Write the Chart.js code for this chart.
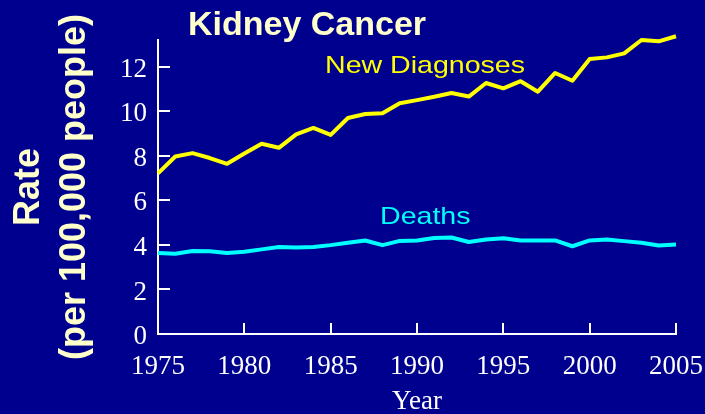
<!DOCTYPE html>
<html>
<head>
<meta charset="utf-8">
<script src="https://cdn.jsdelivr.net/npm/chart.js@4/dist/chart.umd.min.js"></script>
<style>
  html, body { margin: 0; padding: 0; background: #00008e; }
  canvas { display: block; background: #00008e; }
</style>
</head>
<body>
<canvas id="kidney-chart" width="705" height="414"></canvas>
<script>
/* Data */
const years = [1975, 1976, 1977, 1978, 1979, 1980, 1981, 1982, 1983, 1984,
               1985, 1986, 1987, 1988, 1989, 1990, 1991, 1992, 1993, 1994,
               1995, 1996, 1997, 1998, 1999, 2000, 2001, 2002, 2003, 2004, 2005];
const newDiagnoses = [7.21, 7.97, 8.12, 7.9, 7.64, 8.1, 8.54, 8.36, 8.96, 9.25,
                      8.94, 9.7, 9.88, 9.91, 10.36, 10.5, 10.65, 10.82, 10.66, 11.27,
                      11.03, 11.35, 10.88, 11.72, 11.37, 12.35, 12.42, 12.6, 13.2, 13.14, 13.37];
const deaths = [3.64, 3.6, 3.73, 3.72, 3.64, 3.69, 3.8, 3.91, 3.88, 3.91,
                3.99, 4.1, 4.2, 3.99, 4.18, 4.2, 4.31, 4.33, 4.13, 4.24,
                4.3, 4.2, 4.2, 4.2, 3.94, 4.2, 4.24, 4.17, 4.1, 3.97, 4.02];
const xTicks = [1975, 1980, 1985, 1990, 1995, 2000, 2005];
const yTicks = [0, 2, 4, 6, 8, 10, 12];

const chartTitle = 'Kidney Cancer';
const seriesNames = ['New Diagnoses', 'Deaths'];
const yTitle = ['Rate', '(per 100,000 people)'];
const xTitle = 'Year';

// inward tick marks + title + series labels
const overlay = {
  id: 'overlay',
  afterDraw(chart) {
    const ctx = chart.ctx;
    const area = chart.chartArea;
    const xs = chart.scales.x, ys = chart.scales.y;
    ctx.save();
    ctx.strokeStyle = '#ffffff';
    ctx.lineWidth = 2;
    yTicks.forEach(v => {
      if (v === yTicks[0]) return;
      const y = Math.round(ys.getPixelForValue(v));
      ctx.beginPath();
      ctx.moveTo(area.left, y);
      ctx.lineTo(area.left + 12, y);
      ctx.stroke();
    });
    xTicks.forEach(v => {
      if (v === xTicks[0]) return;
      const x = Math.round(xs.getPixelForValue(v));
      ctx.beginPath();
      ctx.moveTo(x, area.bottom);
      ctx.lineTo(x, area.bottom - 11);
      ctx.stroke();
    });

    ctx.textBaseline = 'alphabetic';
    ctx.textAlign = 'left';
    ctx.fillStyle = '#ffffcc';
    ctx.font = 'bold 34px "Liberation Sans", Arial, sans-serif';
    ctx.fillText(chartTitle, 188, 35);

    // series labels look horizontally stretched in the original
    const label = (text, x, y, color) => {
      ctx.save();
      ctx.translate(x, y);
      ctx.scale(1.19, 1);
      ctx.fillStyle = color;
      ctx.font = '24px "Liberation Sans", Arial, sans-serif';
      ctx.fillText(text, 0, 0);
      ctx.restore();
    };
    label(seriesNames[0], 325, 73, '#ffff00');
    label(seriesNames[1], 380, 224, '#00ffff');
    ctx.restore();
  }
};

const data = {
  labels: years,
  datasets: [
    {
      label: seriesNames[0],
      data: newDiagnoses,
      borderColor: '#ffff00',
      borderWidth: 4,
      pointRadius: 0,
      borderJoinStyle: 'round',
      clip: false
    },
    {
      label: seriesNames[1],
      data: deaths,
      borderColor: '#00ffff',
      borderWidth: 4,
      pointRadius: 0,
      borderJoinStyle: 'round',
      clip: false
    }
  ]
};

const config = {
  type: 'line',
  data: data,
  options: {
    responsive: false,
    animation: false,
    layout: {
      padding: { top: 40, right: 29, left: 0, bottom: 0 }
    },
    plugins: {
      legend: { display: false },
      title: { display: false },
      tooltip: { enabled: false }
    },
    scales: {
      x: {
        type: 'linear',
        min: 1975,
        max: 2005,
        afterBuildTicks: s => { s.ticks = xTicks.map(v => ({ value: v })); },
        afterFit: s => {
          s.height = 80;
          s.paddingLeft = 0;
          s.paddingRight = 0;
        },
        grid: { display: false, drawTicks: false },
        border: { display: true, color: '#ffffff', width: 2 },
        ticks: {
          color: '#ffffff',
          padding: 17,
          maxRotation: 0,
          autoSkip: false,
          font: { family: '"Liberation Serif", "Times New Roman", serif', size: 27, lineHeight: 1.2 },
          callback: v => String(v)
        },
        title: {
          display: true,
          text: xTitle,
          color: '#ffffff',
          padding: 0,
          font: { family: '"Liberation Serif", "Times New Roman", serif', size: 27, lineHeight: '24px' }
        }
      },
      y: {
        min: 0,
        max: 13.2,
        afterBuildTicks: s => { s.ticks = yTicks.map(v => ({ value: v })); },
        afterFit: s => {
          s.width = 158;
          s.paddingTop = 0;
          s.paddingBottom = 0;
        },
        grid: { display: false, drawTicks: false },
        border: { display: true, color: '#ffffff', width: 2 },
        ticks: {
          color: '#ffffff',
          padding: 11,
          labelOffset: 3,
          font: { family: '"Liberation Serif", "Times New Roman", serif', size: 27 }
        },
        title: {
          display: true,
          text: yTitle,
          color: '#ffffcc',
          padding: { top: 6, bottom: 0 },
          font: { family: '"Liberation Sans", Arial, sans-serif', size: 36, weight: 'bold', lineHeight: 1.28 }
        }
      }
    }
  },
  plugins: [overlay]
};

// Chart Activation
const ctx = document.getElementById('kidney-chart').getContext('2d');
const kidneyChart = new Chart(ctx, config);
</script>
</body>
</html>
